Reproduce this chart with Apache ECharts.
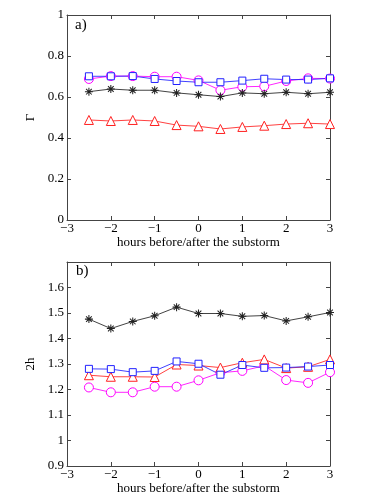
<!DOCTYPE html>
<html>
<head>
<meta charset="utf-8">
<script src="https://cdn.jsdelivr.net/npm/echarts@6/dist/echarts.min.js"></script>
<style>
    html, body { margin: 0; padding: 0; background: #fff; }
    #chart { width: 382px; height: 501px; }
</style>
</head>
<body>
<div id="chart"></div>
<script>
var hours = [-2.5, -2, -1.5, -1, -0.5, 0, 0.5, 1, 1.5, 2, 2.5, 3];

// panel a) Gamma
var gammaStar = [0.626, 0.639, 0.633, 0.633, 0.620, 0.611, 0.602, 0.620, 0.616, 0.623, 0.616, 0.623];
var gammaSquare = [0.701, 0.701, 0.702, 0.688, 0.678, 0.672, 0.672, 0.680, 0.689, 0.685, 0.685, 0.691];
var gammaCircle = [0.688, 0.702, 0.702, 0.699, 0.699, 0.681, 0.633, 0.650, 0.652, 0.678, 0.691, 0.690];
var gammaTriangle = [0.488, 0.483, 0.488, 0.483, 0.463, 0.457, 0.444, 0.454, 0.460, 0.468, 0.472, 0.468];

// panel b) 2h
var hStar = [1.476, 1.439, 1.467, 1.489, 1.523, 1.498, 1.498, 1.487, 1.490, 1.469, 1.485, 1.502];
var hSquare = [1.281, 1.280, 1.268, 1.273, 1.310, 1.301, 1.258, 1.296, 1.285, 1.286, 1.290, 1.296];
var hTriangle = [1.256, 1.250, 1.250, 1.249, 1.298, 1.294, 1.286, 1.305, 1.318, 1.284, 1.289, 1.318];
var hCircle = [1.208, 1.189, 1.189, 1.211, 1.211, 1.236, 1.266, 1.273, 1.293, 1.237, 1.226, 1.268];

var xTitle = 'hours before/after the substorm';
var font = '"Liberation Serif", "DejaVu Serif", serif';
var axisColor = '#444';

var starPath = 'path://M-1.3,-10 L1.3,-10 L1.3,10 L-1.3,10 Z' +
    'M-10,-1.3 L10,-1.3 L10,1.3 L-10,1.3 Z' +
    'M-8,-6.2 L-6.2,-8 L8,6.2 L6.2,8 Z' +
    'M6.2,-8 L8,-6.2 L-6.2,8 L-8,6.2 Z';

function pairs(vals) {
    return vals.map(function (v, i) {
        return [hours[i], v];
    });
}

function minus(v) {
    return String(v).replace('-', '\u2212');
}

function xAxes(gridIndex) {
    var base = {
        gridIndex: gridIndex,
        type: 'value',
        min: -3,
        max: 3,
        interval: 1,
        splitLine: { show: false },
        axisLine: { onZero: false, lineStyle: { color: axisColor, width: 1 } },
        axisTick: { inside: true, length: 4, lineStyle: { color: axisColor } }
    };
    var bottom = Object.assign({}, base, {
        position: 'bottom',
        name: xTitle,
        nameLocation: 'middle',
        nameGap: 16,
        nameTextStyle: { fontFamily: font, fontSize: 13, color: '#000' },
        axisLabel: { fontFamily: font, fontSize: 13, color: '#000', margin: 2, formatter: minus }
    });
    var top = Object.assign({}, base, {
        position: 'top',
        axisLabel: { show: false }
    });
    return [bottom, top];
}

function yAxes(gridIndex, name, min, max, interval, hideMax) {
    var base = {
        gridIndex: gridIndex,
        type: 'value',
        min: min,
        max: max,
        interval: interval,
        splitLine: { show: false },
        axisLine: { onZero: false, lineStyle: { color: axisColor, width: 1 } },
        axisTick: { inside: true, length: 4, lineStyle: { color: axisColor } }
    };
    var left = Object.assign({}, base, {
        position: 'left',
        name: name,
        nameLocation: 'middle',
        nameGap: 24,
        nameRotate: 90,
        nameTextStyle: { fontFamily: font, fontSize: 13, color: '#000' },
        axisLabel: { fontFamily: font, fontSize: 13, color: '#000', margin: 3, showMaxLabel: !hideMax }
    });
    var right = Object.assign({}, base, {
        position: 'right',
        axisLabel: { show: false }
    });
    return [left, right];
}

function line(name, vals, color, symbol, size, axisIdx) {
    var star = symbol === starPath;
    return {
        name: name,
        type: 'line',
        xAxisIndex: axisIdx,
        yAxisIndex: axisIdx,
        data: pairs(vals),
        symbol: symbol,
        symbolSize: size,
        showAllSymbol: true,
        lineStyle: { color: color, width: 1, opacity: 0.85 },
        itemStyle: star ? { color: color, borderWidth: 0 } : { color: '#fff', borderColor: color, borderWidth: 1 },
        emphasis: { disabled: true },
        z: star ? 4 : 3
    };
}

var chart = echarts.init(document.getElementById('chart'));

var option = {
    animation: false,
    backgroundColor: '#fff',
    grid: [
        { left: 67, top: 15, width: 263, height: 205 },
        { left: 67, top: 262, width: 263, height: 204 }
    ],
    xAxis: xAxes(0).concat(xAxes(1)),
    yAxis: yAxes(0, 'Γ', 0, 1, 0.2, false).concat(yAxes(1, '2h', 0.9, 1.7, 0.1, true)),
    graphic: [
        { type: 'text', left: 75, top: 18, style: { text: 'a)', font: '15px ' + font, fill: '#000' } },
        { type: 'text', left: 76, top: 264, style: { text: 'b)', font: '15px ' + font, fill: '#000' } }
    ],
    series: [
        line('a-triangle', gammaTriangle, '#ff2020', 'triangle', 9, 0),
        line('a-circle', gammaCircle, '#ff00ff', 'circle', 9, 0),
        line('a-square', gammaSquare, '#2020ff', 'rect', 7, 0),
        line('a-star', gammaStar, '#222', starPath, 8, 0),
        line('b-circle', hCircle, '#ff00ff', 'circle', 9, 2),
        line('b-triangle', hTriangle, '#ff2020', 'triangle', 9, 2),
        line('b-square', hSquare, '#2020ff', 'rect', 7, 2),
        line('b-star', hStar, '#222', starPath, 8, 2)
    ]
};

chart.setOption(option);
</script>
</body>
</html>
